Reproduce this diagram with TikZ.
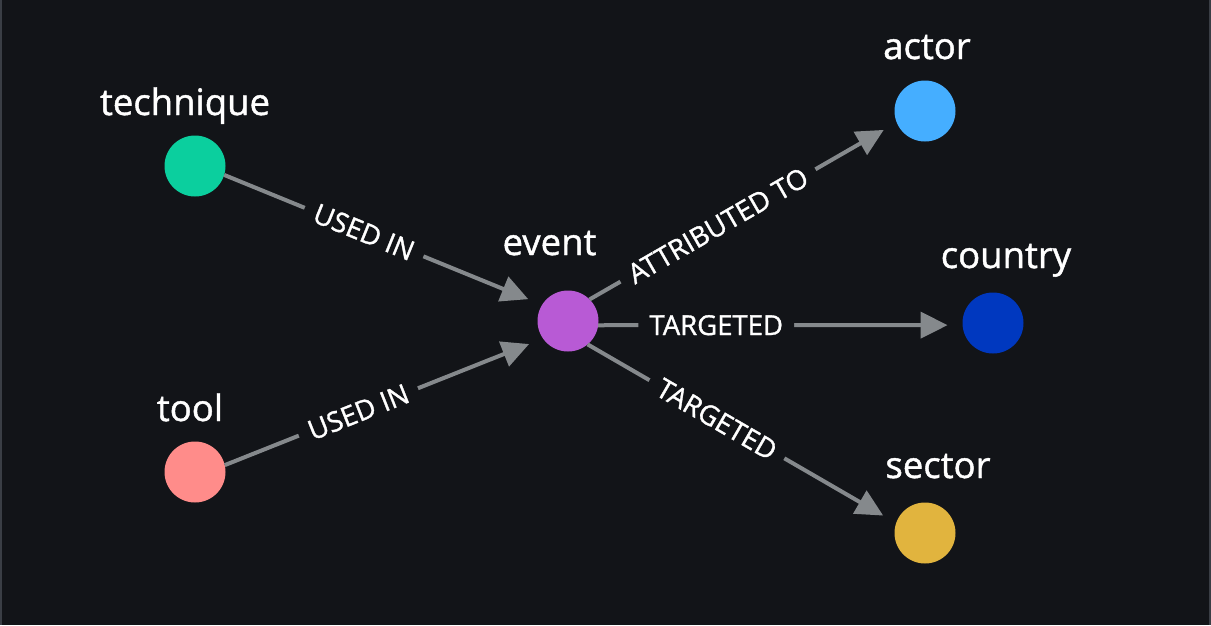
\documentclass[tikz,border=0pt]{standalone}
\usepackage{fontspec}
\setmainfont{Open Sans}
\newfontfamily\lblfont{Open Sans}[FakeBold=1.2]
\usetikzlibrary{arrows.meta}
\definecolor{bg}{HTML}{121418}
\definecolor{edgegray}{HTML}{85898C}
\definecolor{rim}{HTML}{3A3E45}
\definecolor{ctech}{HTML}{0BCF9E}
\definecolor{ctool}{HTML}{FF8C8A}
\definecolor{cevent}{HTML}{B85AD5}
\definecolor{cactor}{HTML}{45AEFF}
\definecolor{ccountry}{HTML}{0038BF}
\definecolor{csector}{HTML}{E1B43E}
\begin{document}
\begin{tikzpicture}[x=1pt,y=-1pt,
  dot/.style={circle,minimum size=61pt,inner sep=0pt,outer sep=0pt},
  nlabel/.style={anchor=base,text=white,font=\lblfont\fontsize{36.5}{40}\selectfont,inner sep=0pt},
  rel/.style={draw=edgegray,line width=4pt,-{Triangle[length=27pt,width=26pt]},shorten >=15pt},
  rlabel/.style={sloped,fill=bg,text=white,font=\lblfont\fontsize{27.5}{30}\selectfont,inner xsep=11pt,inner ysep=2pt}]
\fill[bg] (0,0) rectangle (1211,625);
\useasboundingbox (0,0) rectangle (1211,625);
\draw[rim,line width=1.5pt] (1,0) -- (1,625);
\draw[rim,line width=1.5pt] (1210,0) -- (1210,625);

\node[dot,fill=ctech] (technique) at (195,166) {};
\node[dot,fill=ctool] (tool) at (195,472) {};
\node[dot,fill=cevent] (event) at (568,321) {};
\node[dot,fill=cactor] (actor) at (925,111) {};
\node[dot,fill=ccountry] (country) at (993,323) {};
\node[dot,fill=csector] (sector) at (925,533) {};

\node[nlabel] (ltechnique) at (185,115) {technique};
\node[nlabel] (ltool) at (190,421) {tool};
\node[nlabel] (levent) at (549.5,255) {event};
\node[nlabel] (lactor) at (927,59) {actor};
\node[nlabel] (lcountry) at (1006,268) {country};
\node[nlabel] (lsector) at (938,478) {sector};

\draw[rel] (technique.-17) -- node[rlabel,pos=0.44] {USED IN} (event.148);
\draw[rel] (tool.13) -- node[rlabel,pos=0.42] {USED IN} (event.215);
\draw[rel] (event.45) -- node[rlabel,pos=0.418] {ATTRIBUTED TO} (actor.202);
\draw[rel] (event.-8) -- node[rlabel,pos=0.324] {TARGETED} (country.184);
\draw[rel] (event.-50) -- node[rlabel,pos=0.419] {TARGETED} (sector.161);
\end{tikzpicture}
\end{document}
